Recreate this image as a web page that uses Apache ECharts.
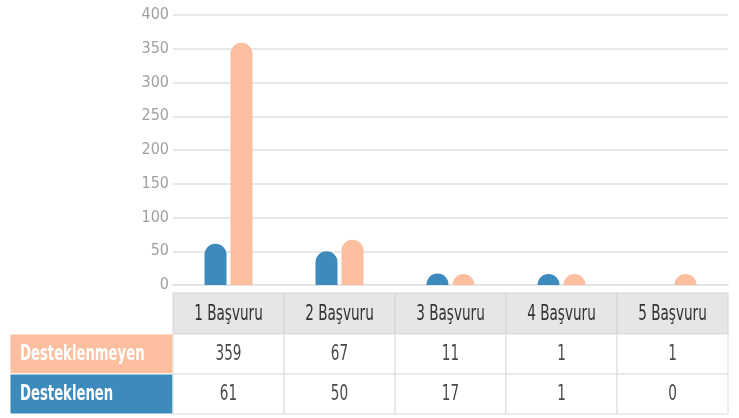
<!DOCTYPE html>
<html><head><meta charset="utf-8">
<script src="https://cdn.jsdelivr.net/npm/echarts@6/dist/echarts.min.js"></script>
<style>html,body{margin:0;padding:0;background:#fff}#c{width:739px;height:418px}</style>
</head><body><div id="c"></div>
<script>
const categories = ['1 Başvuru', '2 Başvuru', '3 Başvuru', '4 Başvuru', '5 Başvuru'];
const desteklenmeyen = [359, 67, 11, 1, 1];
const desteklenen = [61, 50, 17, 1, 0];
const rowNames = ['Desteklenmeyen', 'Desteklenen'];
const yMin = 0, yMax = 400, yInterval = 50;

const BLUE = '#3d8bbd', PEACH = '#fbbf9f';
const FONT = '"Liberation Sans Narrow","Noto Sans ExtraCondensed","Noto Sans Condensed","DejaVu Sans Condensed",sans-serif';
const SX = 0.72;
const G = {left: 173, right: 11, top: 15, bottom: 133};
const chart = echarts.init(document.getElementById('c'));

function txt(x, y, text, font, fill, align, sx) {
  return {type: 'text', x: x, y: y, scaleX: sx || SX, scaleY: 1,
    style: {x: 0, y: 0, text: text, fill: fill, font: font, align: align || 'center', verticalAlign: 'middle'}};
}

function tableGraphics() {
  const els = [];
  const x0 = G.left, x1 = 739 - G.right;
  const colW = (x1 - x0) / categories.length;
  const rows = [{y: 293, h: 41}, {y: 334, h: 40}, {y: 374, h: 40}];
  categories.forEach((c, i) => {
    els.push({type: 'rect', shape: {x: x0 + i * colW, y: rows[0].y, width: colW, height: rows[0].h},
      style: {fill: '#e6e6e8', stroke: '#d4d4d6', lineWidth: 1}});
    els.push(txt(x0 + i * colW + colW / 2, rows[0].y + rows[0].h / 2 + 1, c, '21px ' + FONT, '#333333'));
  });
  const data = [desteklenmeyen, desteklenen];
  const colors = [PEACH, BLUE];
  data.forEach((arr, r) => {
    const row = rows[r + 1];
    els.push({type: 'rect', shape: {x: 10, y: row.y, width: x0 - 10, height: row.h},
      style: {fill: colors[r], stroke: '#ffffff', lineWidth: 1}});
    els.push(txt(20, row.y + row.h / 2 + 1, rowNames[r], 'bold 21px ' + FONT, '#ffffff', 'left', 0.7));
    arr.forEach((v, i) => {
      els.push({type: 'rect', shape: {x: x0 + i * colW, y: row.y, width: colW, height: row.h},
        style: {fill: '#fff', stroke: '#dcdcdc', lineWidth: 1}});
      els.push(txt(x0 + i * colW + colW / 2, row.y + row.h / 2 + 1, String(v), '21px ' + FONT, '#4a4a4a'));
    });
  });
  return els;
}

// zero values draw no bar
const barData = arr => arr.map(v => (v === 0 ? null : v));

chart.setOption({
  animation: false,
  grid: {left: G.left, right: G.right, top: G.top, bottom: G.bottom, containLabel: false},
  xAxis: {type: 'category', data: categories, axisLine: {show: true, lineStyle: {color: '#e4e4e4', width: 2}},
    axisTick: {show: false}, axisLabel: {show: false}},
  yAxis: {type: 'value', min: yMin, max: yMax, interval: yInterval,
    axisLine: {show: false}, axisTick: {show: false},
    splitLine: {lineStyle: {color: '#e8e8e8', width: 2}},
    axisLabel: {color: '#a0a0a2', fontFamily: FONT, fontSize: 16, margin: 4}},
  series: [
    {name: rowNames[1], type: 'bar', data: barData(desteklenen), barWidth: 22, barGap: '18%', barMinHeight: 11,
      itemStyle: {color: BLUE, borderRadius: [11, 11, 0, 0]}},
    {name: rowNames[0], type: 'bar', data: barData(desteklenmeyen), barWidth: 22, barGap: '18%', barMinHeight: 11,
      itemStyle: {color: PEACH, borderRadius: [11, 11, 0, 0]}}
  ],
  graphic: tableGraphics()
});
</script></body></html>
